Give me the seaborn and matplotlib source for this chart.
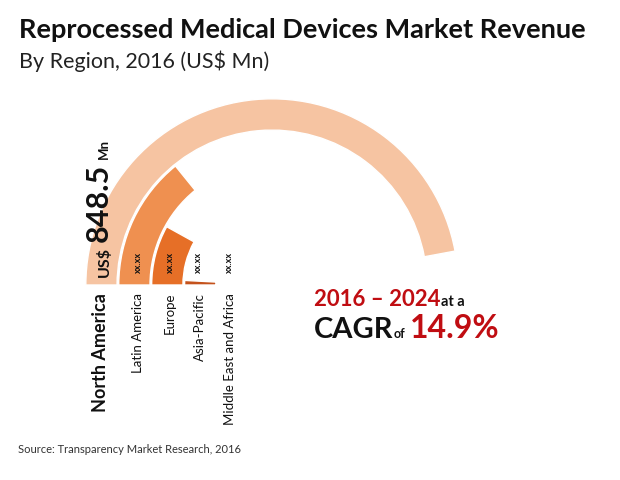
import numpy as np
import pandas as pd
import matplotlib
matplotlib.use('Agg')
import matplotlib.pyplot as plt
import seaborn as sns

regions = ['North America', 'Latin America', 'Europe', 'Asia-Pacific', 'Middle East and Africa']
revenue = [848.5, 255, 145, 15, 5]
bar_labels = ['', 'xx.xx', 'xx.xx', 'xx.xx', 'xx.xx']
colors = ['#F6C4A2', '#EF9050', '#E66F27', '#C4521C', '#A08070']

W, H = 620, 480
sns.set_theme(style='white')
plt.rcParams['font.family'] = ['Lato', 'DejaVu Sans']

fig = plt.figure(figsize=(W / 100, H / 100), dpi=100)


def put(x, y, s, size, color='#111111', weight='normal', rot=0, ha='left'):
    # x, y in image pixels, anchored on the text baseline
    fig.text(x / W, 1 - y / H, s, fontsize=size, color=color, fontweight=weight,
             rotation=rot, rotation_mode='anchor', ha=ha, va='baseline')


# 848.5 spans about 169.5 degrees of the arc
df = pd.DataFrame({'region': regions, 'revenue': revenue})
df['sweep'] = np.radians(df['revenue'] * 169.5 / 848.5)

# centre of the arcs sits at (272, 285), outer radius 187 px
ax = fig.add_axes([85 / W, (H - 472) / H, 374 / W, 374 / H], projection='polar')
sns.barplot(data=df, x='sweep', y='region', hue='region', order=regions, hue_order=regions,
            palette=colors, saturation=1, width=0.95, legend=False, ax=ax, orient='h')
ax.set_theta_zero_location('W')
ax.set_theta_direction(-1)
ax.set_xlim(0, 2 * np.pi)
ax.set_ylim(5.18, -0.5)
ax.set_axis_off()

# titles
put(19, 38, 'Reprocessed Medical Devices Market Revenue', 19.5, weight='bold')
put(19, 68, 'By Region, 2016 (US$ Mn)', 15.5, color='#222222')

# region names and placeholders
label_x = [106, 142, 174, 204, 234]
for i, name in enumerate(regions):
    big = i == 0
    put(label_x[i], 293, name, 13 if big else 9.5, weight='bold' if big else 'normal', rot=90, ha='right')

value_x = [0, 141, 173, 201, 232]
for i, txt in enumerate(bar_labels):
    if txt:
        put(value_x[i], 273, txt, 6.5, weight='bold', rot=90)

# headline value along the first bar
put(109, 277, 'US$', 11.5, weight='bold', rot=90)
put(108, 242, '848.5', 22, weight='bold', rot=90)
put(108, 159, 'Mn', 9.5, weight='bold', rot=90)

# CAGR callout
red = '#C00D12'
put(314, 306, '2016 – 2024', 16, color=red, weight='bold')
put(441, 306, 'at a', 10.5, weight='bold')
put(314, 338, 'CAGR', 21, weight='bold')
put(394, 338, 'of', 9, weight='bold')
put(410, 338, '14.9%', 23, color=red, weight='bold')

put(18, 453, 'Source: Transparency Market Research, 2016', 8, color='#333333')

fig.savefig('out.png', dpi=100)
